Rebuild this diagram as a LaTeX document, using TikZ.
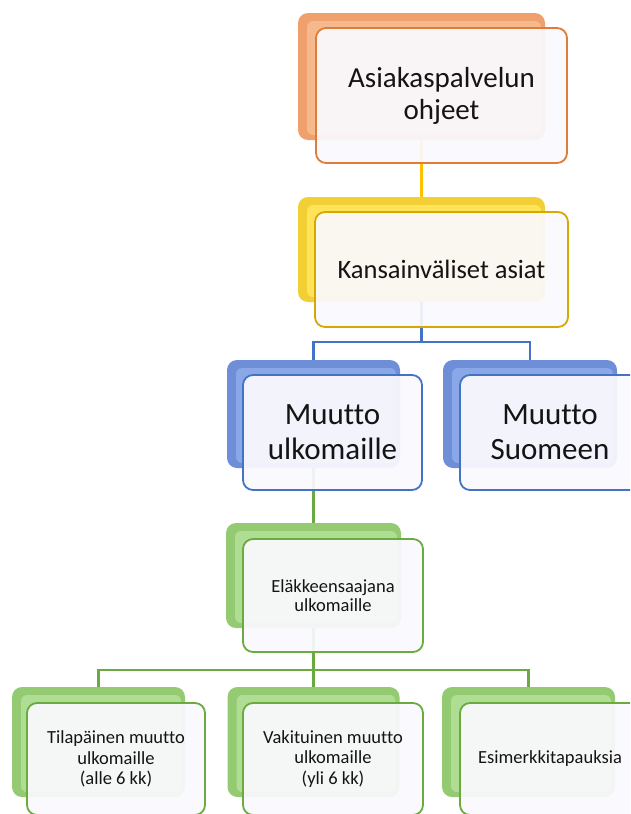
\documentclass[tikz,border=0pt]{standalone}
\usepackage{fontspec}
\setmainfont[Ligatures=NoCommon]{Carlito}
\usetikzlibrary{calc}

% palette
\definecolor{orDark}{HTML}{F0A06C}
\definecolor{orLight}{HTML}{F6B98E}
\definecolor{orLine}{HTML}{E07B39}
\definecolor{yeDark}{HTML}{F2CF35}
\definecolor{yeLight}{HTML}{FFE45A}
\definecolor{yeLine}{HTML}{D9A800}
\definecolor{goldLine}{HTML}{FFC000}
\definecolor{blDark}{HTML}{6E8FD8}
\definecolor{blLight}{HTML}{8AA8E8}
\definecolor{blLine}{HTML}{4472C4}
\definecolor{grDark}{HTML}{94CA72}
\definecolor{grLight}{HTML}{B0DD94}
\definecolor{grLine}{HTML}{6AAB3F}
\definecolor{frontFill}{HTML}{FAF9FD}

\tikzset{
  shadowbox/.style 2 args={rounded corners=10pt, fill=#1, inner sep=0pt,
    path picture={\fill[#2, rounded corners=6pt]
      ([xshift=9pt,yshift=-8pt]path picture bounding box.north west) rectangle
      ([xshift=-4pt,yshift=5pt]path picture bounding box.south east);}},
  frontbox/.style={rounded corners=10pt, draw=#1, line width=1.8pt,
    fill=frontFill, fill opacity=0.93, text opacity=1, inner sep=0pt,
    align=center, text=black!92},
  link/.style={line width=2.4pt, draw=#1},
  big/.style={font=\fontsize{29}{32}\selectfont},
  mid/.style={font=\fontsize{26.5}{30}\selectfont},
  huge/.style={font=\fontsize{31}{35}\selectfont},
  small/.style={font=\fontsize{18.5}{19.5}\selectfont},
  tiny/.style={font=\fontsize{18.5}{20.5}\selectfont},
}

\begin{document}
\begin{tikzpicture}[x=1pt,y=-1pt]
\useasboundingbox (0,0) rectangle (630,814);
\clip (0,0) rectangle (630,814);

% back plates
\node[shadowbox={orDark}{orLight}, minimum width=247, minimum height=127] (s1) at (421.5,76.5) {};
\node[shadowbox={yeDark}{yeLight}, minimum width=247, minimum height=105] (s2) at (421.5,249.5) {};
\node[shadowbox={blDark}{blLight}, minimum width=173, minimum height=108] (s3a) at (313.5,414) {};
\node[shadowbox={blDark}{blLight}, minimum width=174, minimum height=108] (s3b) at (530,414) {};
\node[shadowbox={grDark}{grLight}, minimum width=175, minimum height=105] (s4) at (313.5,575.5) {};
\node[shadowbox={grDark}{grLight}, minimum width=173, minimum height=110] (s5a) at (98.5,742) {};
\node[shadowbox={grDark}{grLight}, minimum width=172, minimum height=110] (s5b) at (313.5,742) {};
\node[shadowbox={grDark}{grLight}, minimum width=173, minimum height=110] (s5c) at (528.5,742) {};

% connectors
\coordinate (b1) at (421.5,342);
\coordinate (g1) at (313.5,670);
\draw[link=goldLine] (s1.south) -- (s2.north);
\draw[link=blLine] (s2.south) -- (b1);
\draw[link=blLine] (b1) -| (s3a.north);
\draw[link=blLine] (b1) -| (s3b.north);
\draw[link=grLine] (s3a.south) -- (s4.north);
\draw[link=grLine] (s4.south) -- (g1);
\draw[link=grLine] (g1) -| (s5a.north);
\draw[link=grLine] (g1) -- (s5b.north);
\draw[link=grLine] (g1) -| (s5c.north);

% front cards
\node[frontbox=orLine, big, minimum width=251, minimum height=135] (f1) at (441.5,95.5) {Asiakaspalvelun\\ohjeet};
\node[frontbox=yeLine, mid, minimum width=253, minimum height=115] (f2) at (441.5,269.5) {Kansainväliset asiat};
\node[frontbox=blLine, huge, minimum width=179, minimum height=115] (f3a) at (332.5,432.5) {Muutto\\ulkomaille};
\node[frontbox=blLine, huge, minimum width=180, minimum height=115] (f3b) at (550,432.5) {Muutto\\Suomeen};
\node[frontbox=grLine, small, minimum width=180, minimum height=113] (f4) at (333,595.5) {Eläkkeensaajana\\ulkomaille};
\node[frontbox=grLine, tiny, minimum width=178, minimum height=112] (f5a) at (116,759) {Tilapäinen muutto\\ulkomaille\\(alle 6 kk)};
\node[frontbox=grLine, tiny, minimum width=180, minimum height=112] (f5b) at (333,759) {Vakituinen muutto\\ulkomaille\\(yli 6 kk)};
\node[frontbox=grLine, tiny, minimum width=180, minimum height=112] (f5c) at (550,759) {Esimerkkitapauksia};
\end{tikzpicture}
\end{document}
